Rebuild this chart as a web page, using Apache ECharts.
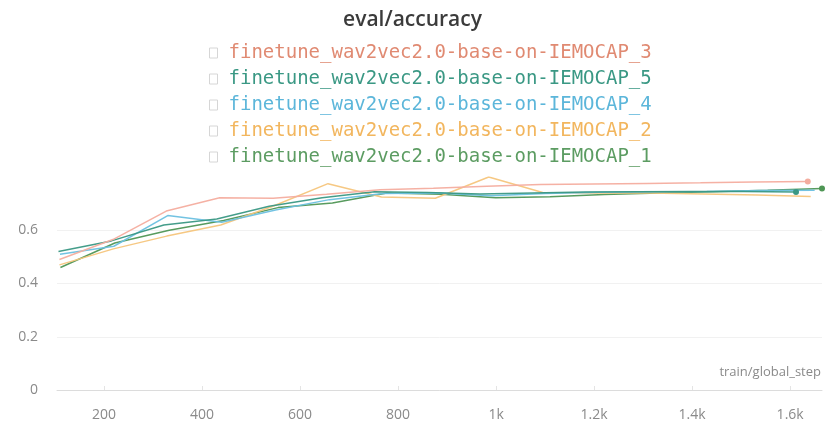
<!DOCTYPE html>
<html>
<head>
<meta charset="utf-8">
<script src="https://cdn.jsdelivr.net/npm/echarts@6/dist/echarts.min.js"></script>
<style>
html,body{margin:0;padding:0;background:#fff;}
#chart{width:825px;height:433px;}
</style>
</head>
<body>
<div id="chart"></div>
<script>
// ---- data ----
const titleText = 'eval/accuracy';
const xAxisName = 'train/global_step';
const seriesNames = [
  'finetune_wav2vec2.0-base-on-IEMOCAP_3',
  'finetune_wav2vec2.0-base-on-IEMOCAP_5',
  'finetune_wav2vec2.0-base-on-IEMOCAP_4',
  'finetune_wav2vec2.0-base-on-IEMOCAP_2',
  'finetune_wav2vec2.0-base-on-IEMOCAP_1'
];
const seriesColors = ['#e08a72', '#3a9884', '#5cb6da', '#f2b65e', '#5c9c62'];
const lineColors   = ['#f4ad9f', '#3a9884', '#6cc0e0', '#f6c57c', '#4f9655'];

// steps (x) per run
const steps3 = [109, 218, 327, 436, 545, 654, 763, 872, 981, 1090, 1199, 1308, 1417, 1526, 1636];
const steps5 = [107, 215, 322, 430, 537, 645, 752, 860, 967, 1075, 1182, 1290, 1397, 1505, 1612];
const steps4 = [110, 220, 330, 440, 550, 660, 770, 880, 990, 1100, 1210, 1320, 1430, 1540, 1650];
const steps2 = [109, 219, 328, 438, 547, 657, 766, 876, 985, 1095, 1204, 1314, 1423, 1533, 1642];
const steps1 = [111, 222, 333, 444, 555, 666, 777, 888, 999, 1110, 1221, 1332, 1443, 1554, 1665];

// eval accuracy per run
const acc3 = [0.49, 0.565, 0.672, 0.722, 0.72, 0.735, 0.752, 0.758, 0.765, 0.772, 0.774, 0.776, 0.778, 0.781, 0.783];
const acc5 = [0.52, 0.56, 0.62, 0.642, 0.69, 0.722, 0.745, 0.742, 0.736, 0.74, 0.744, 0.745, 0.746, 0.746, 0.744];
const acc4 = [0.51, 0.54, 0.655, 0.63, 0.676, 0.715, 0.738, 0.74, 0.73, 0.738, 0.743, 0.745, 0.746, 0.749, 0.75];
const acc2 = [0.47, 0.53, 0.578, 0.62, 0.692, 0.775, 0.725, 0.72, 0.80, 0.742, 0.74, 0.74, 0.736, 0.732, 0.727];
const acc1 = [0.46, 0.552, 0.6, 0.637, 0.685, 0.702, 0.74, 0.735, 0.722, 0.726, 0.734, 0.74, 0.745, 0.75, 0.757];

const yTicks = [0, 0.2, 0.4, 0.6];

const allSteps = [steps3, steps5, steps4, steps2, steps1];
const allAcc = [acc3, acc5, acc4, acc2, acc1];
const endMarker = [true, true, false, false, true];

const chart = echarts.init(document.getElementById('chart'), null, {renderer: 'canvas'});

const series = seriesNames.map((name, i) => ({
  name: name,
  type: 'line',
  color: seriesColors[i],
  symbol: 'none',
  showSymbol: true,
  lineStyle: {width: 1.5, color: lineColors[i], opacity: 0.95},
  emphasis: {disabled: true},
  z: 10 - i,
  data: allSteps[i].map((s, k) => {
    const d = {value: [s, allAcc[i][k]]};
    if (endMarker[i] && k === allSteps[i].length - 1) {
      d.symbol = 'circle';
      d.symbolSize = 6;
      d.itemStyle = {color: lineColors[i], borderWidth: 0};
    }
    return d;
  })
}));

const option = {
  animation: false,
  backgroundColor: '#ffffff',
  title: {
    text: titleText,
    left: 'center',
    top: 5,
    textStyle: {fontFamily: 'Open Sans', fontSize: 21, fontWeight: 600, color: '#3b3b3b'}
  },
  legend: {
    orient: 'vertical',
    left: 204,
    top: 38,
    icon: 'rect',
    itemWidth: 8,
    itemHeight: 10,
    itemGap: 6,
    itemStyle: {color: '#ffffff', borderColor: '#d6d6d6', borderWidth: 1},
    selectedMode: false,
    data: seriesNames.map((n, i) => ({
      name: n,
      textStyle: {color: seriesColors[i]}
    })),
    textStyle: {fontFamily: 'DejaVu Sans Mono', fontSize: 19, lineHeight: 20, padding: [0, 0, 0, 6]}
  },
  grid: {left: 57, right: 3, top: 177, bottom: 43, containLabel: false},
  xAxis: {
    type: 'value',
    min: 104,
    max: 1665,
    splitNumber: 8,
    axisLine: {show: true, lineStyle: {color: '#dcdcdc', width: 1}},
    axisTick: {show: true, length: 4, inside: true, lineStyle: {color: '#e4e4e4'}},
    splitLine: {show: false},
    axisLabel: {
      showMinLabel: false,
      showMaxLabel: false,
      margin: 18,
      color: '#8a8a8a',
      fontFamily: 'Open Sans',
      fontSize: 14,
      formatter: v => v >= 1000 ? (v / 1000) + 'k' : String(v)
    }
  },
  yAxis: {
    type: 'value',
    min: 0,
    max: 0.8,
    interval: 0.2,
    axisLine: {show: false},
    axisTick: {show: false},
    splitLine: {show: true, showMaxLine: false, lineStyle: {color: '#f1f1f1', width: 1}},
    axisLabel: {
      showMaxLabel: false,
      margin: 19,
      color: '#8a8a8a',
      fontFamily: 'Open Sans',
      fontSize: 14,
      formatter: v => yTicks.indexOf(Math.round(v * 10) / 10) >= 0 ? String(Math.round(v * 10) / 10) : ''
    }
  },
  graphic: [{
    type: 'text',
    right: 4,
    top: 366,
    style: {text: xAxisName, fill: '#8a8a8a', font: '13px "Open Sans"'}
  }],
  series: series
};
chart.setOption(option);
</script>
</body>
</html>
